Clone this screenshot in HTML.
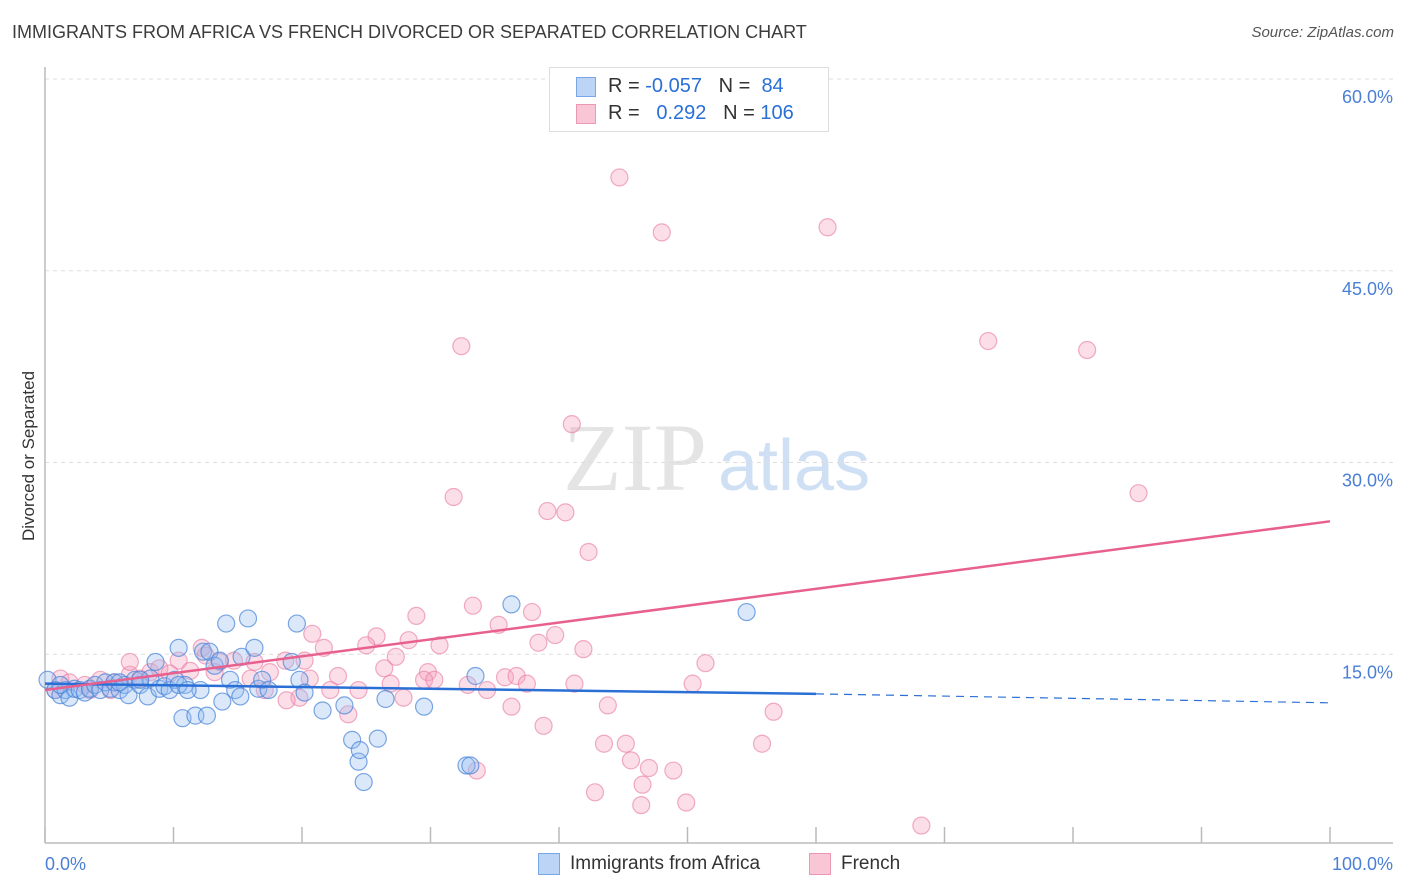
<!DOCTYPE html>
<html><head><meta charset="utf-8"><style>
body{margin:0;background:#fff;font-family:"Liberation Sans",sans-serif;}
#wrap{position:relative;width:1406px;height:892px;overflow:hidden;}
.t{position:absolute;white-space:nowrap;}
</style></head><body>
<div id="wrap">
<div class="t" style="left:12px;top:22px;font-size:18px;color:#3c3c3c;">IMMIGRANTS FROM AFRICA VS FRENCH DIVORCED OR SEPARATED CORRELATION CHART</div>
<div class="t" style="right:12px;top:24px;font-size:15px;color:#555;font-style:italic;">Source: ZipAtlas.com</div>
<svg id="svg" width="1406" height="892" style="position:absolute;left:0;top:0"></svg>
</div>
<script>
const xMin=0,xMax=100,yMin=0,yMax=60;
const yTicks=[15,30,45,60];
const yTickLabels=["15.0%","30.0%","45.0%","60.0%"];
const xTicks=[0,10,20,30,40,50,60,70,80,90,100];
const blueX=[0.2,0.8,1.2,1.6,1.9,2.3,2.7,3.1,3.5,3.9,4.3,4.7,5.1,5.4,5.8,6.2,6.5,7.0,7.4,8.0,8.2,8.6,8.9,9.3,9.7,10.1,10.4,10.7,10.9,11.7,12.1,12.3,12.6,12.8,13.2,13.6,13.8,14.1,14.4,14.8,15.2,15.3,15.8,16.3,16.6,16.9,17.4,19.2,19.6,19.8,20.2,21.6,23.3,23.9,24.4,24.5,24.8,25.9,26.5,29.5,32.8,33.1,33.5,36.3,54.6,10.4,11.1,5.8,7.4,1.2];
const blueY=[13.0,12.2,11.8,12.2,11.6,12.3,12.2,12.0,12.3,12.6,12.2,12.8,12.3,12.8,12.2,12.6,11.8,13.0,12.6,11.7,13.1,14.4,12.3,12.5,12.2,13.0,15.5,10.0,12.6,10.2,12.2,15.2,10.2,15.2,14.1,14.5,11.3,17.4,13.0,12.2,11.7,14.8,17.8,15.5,12.3,13.0,12.2,14.4,17.4,13.0,12.0,10.6,11.0,8.3,6.6,7.5,5.0,8.4,11.5,10.9,6.3,6.3,13.3,18.9,18.3,12.6,12.2,12.8,13.0,12.6];
const pinkX=[44.7,48.0,60.9,32.4,73.4,81.1,41.0,31.8,85.1,39.1,40.5,42.3,33.3,37.9,28.9,35.3,20.8,39.7,25.8,28.3,30.7,25.0,41.9,21.7,38.4,51.4,27.3,14.7,16.3,18.7,20.2,12.2,10.4,13.6,29.8,26.4,29.5,22.8,20.6,24.4,26.9,30.3,32.9,35.8,34.4,36.7,37.5,41.2,50.4,43.8,38.8,36.3,27.9,23.6,22.2,19.8,18.8,43.5,45.2,45.6,47.0,48.9,55.8,56.7,42.8,46.5,46.4,49.9,68.2,33.6,1.2,1.9,3.1,4.3,5.4,6.6,7.4,8.2,8.9,9.7,11.3,6.6,13.2,16.0,17.5,0.8,3.5,5.1,12.5,17.1];
const pinkY=[52.3,48.0,48.4,39.1,39.5,38.8,33.0,27.3,27.6,26.2,26.1,23.0,18.8,18.3,18.0,17.3,16.6,16.5,16.4,16.1,15.7,15.7,15.4,15.5,15.9,14.3,14.8,14.5,14.4,14.5,14.5,15.5,14.5,14.4,13.6,13.9,13.0,13.3,13.1,12.2,12.7,13.0,12.6,13.2,12.2,13.3,12.7,12.7,12.7,11.0,9.4,10.9,11.6,10.3,12.2,11.6,11.4,8.0,8.0,6.7,6.1,5.9,8.0,10.5,4.2,4.8,3.2,3.4,1.6,5.9,13.1,12.8,12.6,13.0,12.8,13.4,13.1,13.6,13.9,13.5,13.7,14.4,13.6,13.1,13.6,12.2,12.2,12.2,14.9,12.2];
const blueTrendX=[0,60,100];
const blueTrendY=[12.7,11.9,11.2];
const pinkTrendX=[0,100];
const pinkTrendY=[12.2,25.4];
const L=45,R=1330,T=79,B=846;
const sx=v=>L+(v-xMin)/(xMax-xMin)*(R-L);
const sy=v=>B-(v-yMin)/(yMax-yMin)*(B-T);
const svg=document.getElementById('svg');const NS='http://www.w3.org/2000/svg';
function mk(tag,attrs,parent){const e=document.createElementNS(NS,tag);for(const k in attrs)e.setAttribute(k,attrs[k]);(parent||svg).appendChild(e);return e;}
// watermark
let wm=mk('text',{x:635,y:490,'font-size':96,'font-family':'Liberation Serif',fill:'#e4e4e4','text-anchor':'middle'});


wm.textContent='ZIP';
let wm2=mk('text',{x:718,y:490,'font-size':72,'font-family':'Liberation Sans',fill:'#cfe0f5'});


wm2.textContent='atlas';
yTicks.forEach((v,i)=>{
 const g=mk('line',{x1:L,x2:1393,y1:sy(v),y2:sy(v),stroke:'#ddd','stroke-dasharray':'4,4'});
 
 
 const t=mk('text',{x:1393,y:sy(v)+24,'font-size':18,fill:'#4a7fd6','text-anchor':'end','font-family':'Liberation Sans'});
 
 
 t.textContent=yTickLabels[i];
});
let ax=mk('line',{x1:L,x2:L,y1:67,y2:843,stroke:'#bbb','stroke-width':1.5});


let xa=mk('line',{x1:L,x2:1393,y1:843,y2:843,stroke:'#bbb','stroke-width':1.5});


xTicks.forEach(v=>{
 const tk=mk('line',{x1:sx(v),x2:sx(v),y1:827,y2:843,stroke:'#bbb','stroke-width':1.5});
 
 
});
const xl0=mk('text',{x:45,y:870,'font-size':18,fill:'#4a7fd6','font-family':'Liberation Sans'});


xl0.textContent='0.0%';
const xl1=mk('text',{x:1393,y:870,'font-size':18,fill:'#4a7fd6','text-anchor':'end','font-family':'Liberation Sans'});


xl1.textContent='100.0%';
const yt=mk('text',{x:34,y:456,'font-size':17,fill:'#333','text-anchor':'middle','font-family':'Liberation Sans',transform:'rotate(-90 34 456)'});


yt.textContent='Divorced or Separated';
pinkX.forEach((x,i)=>{
 const c=mk('circle',{cx:sx(x),cy:sy(pinkY[i]),r:8.5,fill:'rgba(244,160,190,0.35)',stroke:'rgba(232,120,160,0.6)','stroke-width':1.2});
 
 
});
blueX.forEach((x,i)=>{
 const c=mk('circle',{cx:sx(x),cy:sy(blueY[i]),r:8.5,fill:'rgba(150,190,240,0.35)',stroke:'rgba(70,130,215,0.7)','stroke-width':1.2});
 
 
});
const bl1=mk('line',{x1:sx(blueTrendX[0]),y1:sy(blueTrendY[0]),x2:sx(blueTrendX[1]),y2:sy(blueTrendY[1]),stroke:'#2a6fd6','stroke-width':2.5});


const bl2=mk('line',{x1:sx(blueTrendX[1]),y1:sy(blueTrendY[1]),x2:sx(blueTrendX[2]),y2:sy(blueTrendY[2]),stroke:'#2a6fd6','stroke-width':1.2,'stroke-dasharray':'8,6'});


const pl=mk('line',{x1:sx(pinkTrendX[0]),y1:sy(pinkTrendY[0]),x2:sx(pinkTrendX[1]),y2:sy(pinkTrendY[1]),stroke:'#e8608e','stroke-width':2.5});


</script>
<div class="t" style="left:549px;top:67px;width:278px;height:63px;border:1px solid #ddd;background:#fff;">
 <div class="t" style="left:26px;top:9px;width:18px;height:18px;background:#bcd4f6;border:1px solid #7aa6e6;"></div>
 <div class="t" style="left:58px;top:7px;font-size:20px;color:#333;">R = <span style="color:#2a6fd6">-0.057</span>&nbsp;&nbsp;&nbsp;N = &nbsp;<span style="color:#2a6fd6">84</span></div>
 <div class="t" style="left:26px;top:36px;width:18px;height:18px;background:#f9c6d6;border:1px solid #eb98b4;"></div>
 <div class="t" style="left:58px;top:34px;font-size:20px;color:#333;">R = &nbsp;&nbsp;<span style="color:#2a6fd6">0.292</span>&nbsp;&nbsp;&nbsp;N = <span style="color:#2a6fd6">106</span></div>
</div>
<div class="t" style="left:538px;top:853px;width:20px;height:20px;background:#bcd4f6;border:1px solid #7aa6e6;"></div>
<div class="t" style="left:570px;top:853px;font-size:19px;color:#333;">Immigrants from Africa</div>
<div class="t" style="left:809px;top:853px;width:20px;height:20px;background:#f9c6d6;border:1px solid #eb98b4;"></div>
<div class="t" style="left:841px;top:853px;font-size:19px;color:#333;">French</div>
</body></html>
